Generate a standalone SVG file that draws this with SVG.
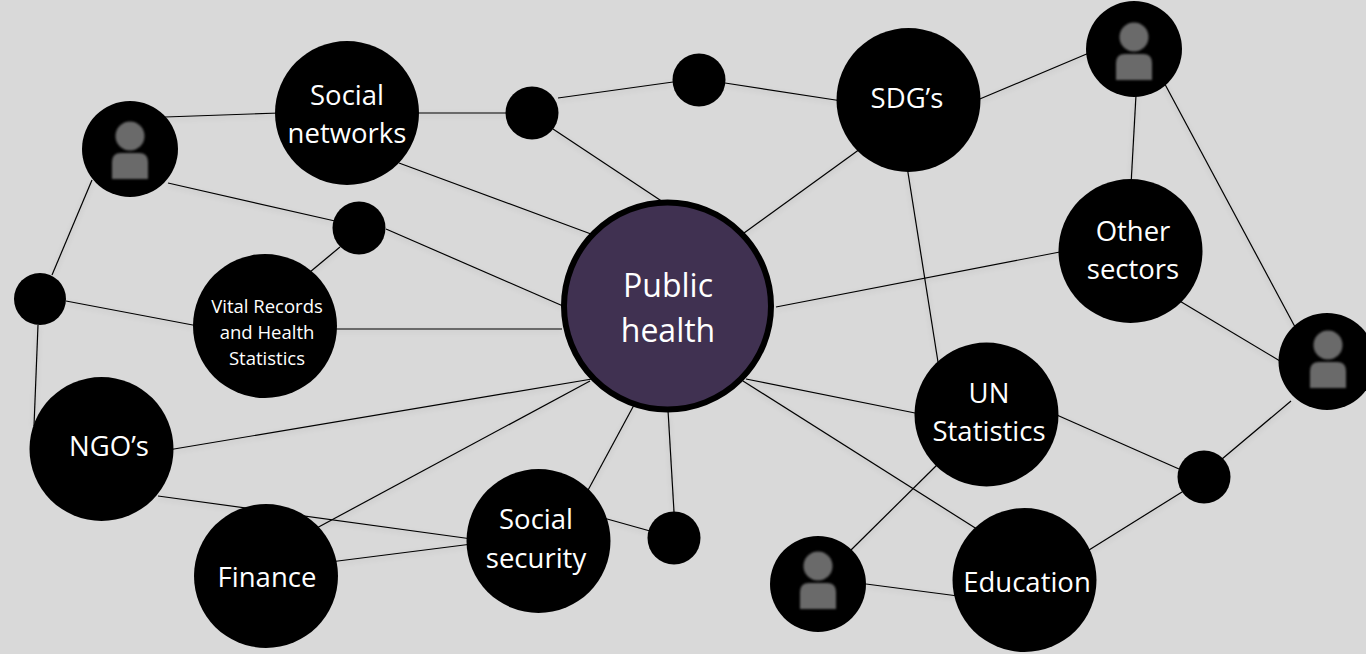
<svg xmlns="http://www.w3.org/2000/svg" width="1366" height="654" viewBox="0 0 1366 654">
<style>
.c{stroke:#000;stroke-width:1.2;fill:none}
.n{fill:#000}
.t{fill:#fff;font-family:"Open Sans","Liberation Sans",sans-serif;font-size:27.5px;text-anchor:middle}
.p{fill:#6b6b6b}
</style>
<defs>
<filter id="s" x="-10%" y="-10%" width="120%" height="120%"><feDropShadow dx="0" dy="2" stdDeviation="2.5" flood-color="#000" flood-opacity="0.16"/></filter>
<filter id="b" x="-10%" y="-10%" width="120%" height="120%"><feGaussianBlur stdDeviation="0.8"/></filter>
<g id="icon" filter="url(#b)"><circle class="p" cx="0" cy="0" r="14.5"/><path class="p" d="M-18 43V26Q-18 17-9 17H9Q18 17 18 26V43Z"/></g>
</defs>
<rect width="1366" height="654" fill="#d9d9d9"/>
<g id="connectors" filter="url(#s)">
<path class="c" d="M165 117L280 113"/>
<path class="c" d="M168 183L335 221"/>
<path class="c" d="M92 180L52 275"/>
<path class="c" d="M386 229L563 306"/>
<path class="c" d="M340 247L310 272"/>
<path class="c" d="M66 301L198 326"/>
<path class="c" d="M38 325L34 426"/>
<path class="c" d="M330 329L562 329"/>
<path class="c" d="M410 113L510 113"/>
<path class="c" d="M399 163L591 234"/>
<path class="c" d="M558 98L673 82"/>
<path class="c" d="M553 129L663 202"/>
<path class="c" d="M725 83L842 101"/>
<path class="c" d="M860 149L744 233"/>
<path class="c" d="M975 101L1089 53"/>
<path class="c" d="M906 160L938 362"/>
<path class="c" d="M1136 95L1131 185"/>
<path class="c" d="M1160 75L1309 353"/>
<path class="c" d="M1065 251L776 307"/>
<path class="c" d="M1178 300L1285 364"/>
<path class="c" d="M1291 401L1222 459"/>
<path class="c" d="M1179 469L1050 412"/>
<path class="c" d="M1182 492L1089 550"/>
<path class="c" d="M920 414L746 379"/>
<path class="c" d="M940 462L851 550"/>
<path class="c" d="M980 531L743 381"/>
<path class="c" d="M958 596L866 584"/>
<path class="c" d="M168 450L592 379"/>
<path class="c" d="M158 496L472 539"/>
<path class="c" d="M300 537L590 381"/>
<path class="c" d="M330 562L472 544"/>
<path class="c" d="M580 505L634 405"/>
<path class="c" d="M600 517L650 531"/>
<path class="c" d="M674 512L668 410"/>
</g>
<g id="public-health"><circle cx="667.5" cy="306" r="103.5" fill="#403151" stroke="#000" stroke-width="6"/><text class="t" x="668" y="297" style="font-size:32px">Public</text><text class="t" x="668" y="342" style="font-size:32px">health</text></g>
<g id="social-networks"><circle class="n" cx="347" cy="113" r="72"/><text class="t" x="347" y="105">Social</text><text class="t" x="347" y="143">networks</text></g>
<g id="dot-1"><circle class="n" cx="532" cy="113" r="26.5"/></g>
<g id="dot-2"><circle class="n" cx="699" cy="80" r="26.5"/></g>
<g id="sdgs"><circle class="n" cx="908.5" cy="100" r="72"/><text class="t" x="907" y="108">SDG’s</text></g>
<g id="person-top-right"><circle class="n" cx="1134" cy="49" r="48"/><use href="#icon" x="1134" y="37"/></g>
<g id="other-sectors"><circle class="n" cx="1130.5" cy="251" r="72"/><text class="t" x="1133" y="241">Other</text><text class="t" x="1133" y="279">sectors</text></g>
<g id="person-right"><circle class="n" cx="1327" cy="361.5" r="48.5"/><use href="#icon" x="1328" y="345"/></g>
<g id="dot-3"><circle class="n" cx="1204" cy="477" r="26.5"/></g>
<g id="un-statistics"><circle class="n" cx="986.5" cy="414.5" r="72"/><text class="t" x="989" y="403">UN</text><text class="t" x="989" y="441">Statistics</text></g>
<g id="education"><circle class="n" cx="1024.5" cy="580" r="72"/><text class="t" x="1027" y="592">Education</text></g>
<g id="person-bottom"><circle class="n" cx="818" cy="584" r="48"/><use href="#icon" x="818" y="566"/></g>
<g id="dot-4"><circle class="n" cx="674" cy="538" r="26.5"/></g>
<g id="social-security"><circle class="n" cx="538.5" cy="541" r="72"/><text class="t" x="536" y="529">Social</text><text class="t" x="536" y="568">security</text></g>
<g id="finance"><circle class="n" cx="266" cy="576" r="72"/><text class="t" x="267" y="587">Finance</text></g>
<g id="ngos"><circle class="n" cx="101.5" cy="449" r="72"/><text class="t" x="109" y="456">NGO’s</text></g>
<g id="dot-5"><circle class="n" cx="40" cy="299" r="26"/></g>
<g id="vital-records"><circle class="n" cx="265" cy="326" r="72"/><text class="t" x="267" y="313" style="font-size:18.5px">Vital Records</text><text class="t" x="267" y="339" style="font-size:18.5px">and Health</text><text class="t" x="267" y="365" style="font-size:18.5px">Statistics</text></g>
<g id="dot-6"><circle class="n" cx="359" cy="228" r="26.5"/></g>
<g id="person-left"><circle class="n" cx="130" cy="149" r="48"/><use href="#icon" x="130" y="136"/></g>
</svg>
